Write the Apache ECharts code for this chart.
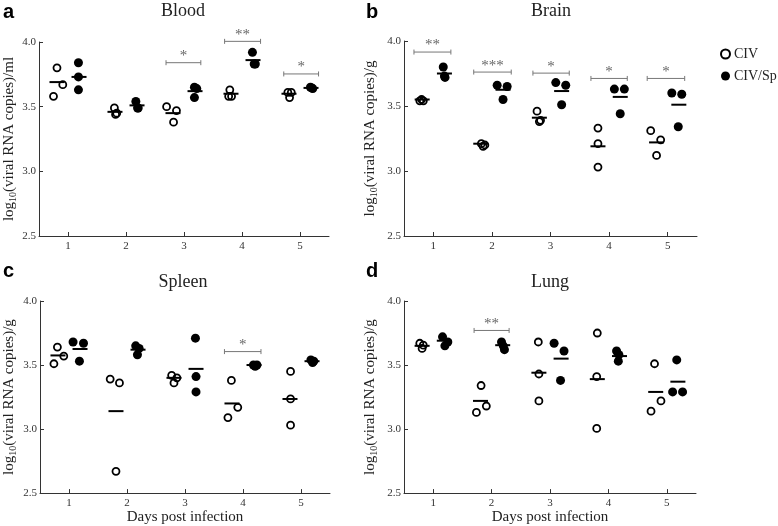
<!DOCTYPE html>
<html>
<head>
<meta charset="utf-8">
<script src="https://cdn.jsdelivr.net/npm/echarts@6/dist/echarts.min.js"></script>
<style>html,body{margin:0;padding:0;background:#fff;}#chart{width:778px;height:526px;}</style>
</head>
<body>
<div id="chart"></div>
<script>
// ---------- data ----------
const days = [1, 2, 3, 4, 5];
const yTickLabels = ['2.5', '3.0', '3.5', '4.0'];
const seriesNames = ['CIV', 'CIV/Sp'];
const panelTitles = ['Blood', 'Brain', 'Spleen', 'Lung'];
const panelLetters = ['a', 'b', 'c', 'd'];
const yUnits = ['ml', 'g', 'g', 'g'];
const xAxisName = 'Days post infection';

// Blood
const bloodCIV = [[3.58, 3.80, 3.67], [3.49, 3.45, 3.44], [3.50, 3.47, 3.38], [3.63, 3.58, 3.58], [3.61, 3.61, 3.57]];
const bloodCIVMean = [3.69, 3.46, 3.45, 3.60, 3.60];
const bloodSp = [[3.84, 3.73, 3.63], [3.54, 3.49, 3.49], [3.65, 3.64, 3.57], [3.92, 3.83, 3.83], [3.65, 3.64, 3.645]];
const bloodSpMean = [3.73, 3.51, 3.62, 3.86, 3.645];
const bloodCIVJitter = [[-0.25, -0.19, -0.09], [-0.20, -0.16, -0.18], [-0.30, -0.13, -0.18], [-0.21, -0.18, -0.23], [-0.21, -0.15, -0.18]];
const bloodSpJitter = [[0.18, 0.18, 0.18], [0.17, 0.20, 0.21], [0.18, 0.22, 0.18], [0.18, 0.21, 0.23], [0.18, 0.22, 0.20]];
const bloodSig = [[2.69, 3.29, 3.84], [3.70, 4.32, 4.005], [4.72, 5.32, 3.753]];
const bloodSigLabels = ['*', '**', '*'];

// Brain
const brainCIV = [[3.54, 3.55, 3.54], [3.21, 3.19, 3.20], [3.46, 3.39, 3.38], [3.33, 3.21, 3.03], [3.31, 3.24, 3.12]];
const brainCIVMean = [3.55, 3.21, 3.41, 3.19, 3.22];
const brainSp = [[3.80, 3.72, 3.73], [3.66, 3.65, 3.55], [3.68, 3.66, 3.51], [3.63, 3.63, 3.44], [3.60, 3.59, 3.34]];
const brainSpMean = [3.75, 3.625, 3.615, 3.57, 3.51];
const brainCIVJitter = [[-0.23, -0.20, -0.17], [-0.18, -0.15, -0.12], [-0.23, -0.17, -0.19], [-0.19, -0.19, -0.19], [-0.29, -0.12, -0.19]];
const brainSpJitter = [[0.17, 0.20, 0.19], [0.09, 0.26, 0.19], [0.09, 0.26, 0.19], [0.09, 0.26, 0.19], [0.07, 0.24, 0.18]];
const brainSig = [[0.67, 1.30, 3.915], [1.69, 2.33, 3.761], [2.70, 3.32, 3.753], [3.69, 4.31, 3.712], [4.65, 5.29, 3.712]];
const brainSigLabels = ['**', '***', '*', '*', '*'];

// Spleen
const spleenCIV = [[3.51, 3.64, 3.57], [3.39, 3.36, 2.67], [3.42, 3.40, 3.36], [3.38, 3.17, 3.09], [3.45, 3.235, 3.03]];
const spleenCIVMean = [3.575, 3.14, 3.40, 3.20, 3.235];
const spleenSp = [[3.68, 3.53, 3.67], [3.65, 3.63, 3.58], [3.71, 3.41, 3.29], [3.50, 3.49, 3.50], [3.54, 3.52, 3.53]];
const spleenSpMean = [3.625, 3.62, 3.47, 3.50, 3.53];
const spleenCIVJitter = [[-0.26, -0.20, -0.09], [-0.29, -0.13, -0.19], [-0.23, -0.14, -0.19], [-0.20, -0.09, -0.26], [-0.18, -0.18, -0.18]];
const spleenSpJitter = [[0.07, 0.18, 0.25], [0.15, 0.21, 0.18], [0.18, 0.19, 0.19], [0.18, 0.21, 0.24], [0.17, 0.20, 0.22]];
const spleenSig = [[3.68, 4.31, 3.605]];
const spleenSigLabels = ['*'];

// Lung
const lungCIV = [[3.67, 3.63, 3.655], [3.34, 3.18, 3.13], [3.68, 3.43, 3.22], [3.75, 3.41, 3.005], [3.51, 3.22, 3.14]];
const lungCIVMean = [3.65, 3.22, 3.44, 3.39, 3.29];
const lungSp = [[3.72, 3.65, 3.68], [3.68, 3.65, 3.62], [3.67, 3.61, 3.38], [3.61, 3.53, 3.58], [3.54, 3.29, 3.29]];
const lungSpMean = [3.69, 3.655, 3.55, 3.57, 3.37];
const lungCIVJitter = [[-0.23, -0.19, -0.17], [-0.18, -0.09, -0.26], [-0.20, -0.19, -0.19], [-0.19, -0.20, -0.20], [-0.21, -0.10, -0.27]];
const lungSpJitter = [[0.16, 0.20, 0.25], [0.17, 0.20, 0.22], [0.07, 0.24, 0.18], [0.14, 0.17, 0.18], [0.17, 0.10, 0.27]];
const lungSig = [[1.70, 2.30, 3.77]];
const lungSigLabels = ['**'];

const groupOffset = 0.19;

// ---------- layout ----------
const SERIF = '"Liberation Serif", "DejaVu Serif", serif';
const SANS = '"Liberation Sans", Arial, sans-serif';
const layouts = [
  { left: 36, top: 42, width: 293, height: 194, nameGap: 21, titleX: 183, titleY: 11, letterX: 3, letterY: 12, xName: false },
  { left: 404, top: 41, width: 293, height: 195, nameGap: 25, titleX: 551, titleY: 11, letterX: 366, letterY: 12, xName: false },
  { left: 37, top: 301, width: 293, height: 195, nameGap: 22, titleX: 183, titleY: 282, letterX: 3, letterY: 271, xName: true },
  { left: 404, top: 301, width: 292, height: 195, nameGap: 25, titleX: 550, titleY: 282, letterX: 366, letterY: 271, xName: true }
];

const panels = [
  { civ: bloodCIV, civMean: bloodCIVMean, sp: bloodSp, spMean: bloodSpMean, civJ: bloodCIVJitter, spJ: bloodSpJitter, sig: bloodSig, sigL: bloodSigLabels },
  { civ: brainCIV, civMean: brainCIVMean, sp: brainSp, spMean: brainSpMean, civJ: brainCIVJitter, spJ: brainSpJitter, sig: brainSig, sigL: brainSigLabels },
  { civ: spleenCIV, civMean: spleenCIVMean, sp: spleenSp, spMean: spleenSpMean, civJ: spleenCIVJitter, spJ: spleenSpJitter, sig: spleenSig, sigL: spleenSigLabels },
  { civ: lungCIV, civMean: lungCIVMean, sp: lungSp, spMean: lungSpMean, civJ: lungCIVJitter, spJ: lungSpJitter, sig: lungSig, sigL: lungSigLabels }
];

function points(vals, jit) {
  const out = [];
  days.forEach((d, i) => vals[i].forEach((v, k) => out.push([d + jit[i][k], v])));
  return out;
}
function means(vals, off) { return days.map((d, i) => [d + off, vals[i]]); }

const grid = [], xAxis = [], yAxis = [], series = [], graphic = [];
const axisColor = '#333';

layouts.forEach((L, i) => {
  const P = panels[i];
  grid.push({ left: L.left, top: L.top, width: L.width, height: L.height, containLabel: false });
  xAxis.push({
    gridIndex: i, type: 'value', min: 0.5, max: 5.5,
    axisLine: { show: true, onZero: false, lineStyle: { color: axisColor, width: 1 } },
    axisTick: { show: true, inside: true, length: 4, customValues: days, lineStyle: { color: axisColor } },
    axisLabel: { customValues: days, color: '#333', fontFamily: SERIF, fontSize: 11, margin: 5 },
    splitLine: { show: false },
    name: L.xName ? xAxisName : '', nameLocation: 'middle', nameGap: 14,
    nameTextStyle: { fontFamily: SERIF, fontSize: 15, color: '#222' }
  });
  yAxis.push({
    gridIndex: i, type: 'value', min: 2.5, max: 4.0, interval: 0.5,
    axisLine: { show: true, onZero: false, lineStyle: { color: axisColor, width: 1 } },
    axisTick: { show: true, inside: true, length: 4, lineStyle: { color: axisColor } },
    axisLabel: { color: '#333', fontFamily: SERIF, fontSize: 11, margin: 3,
      formatter: v => yTickLabels[Math.round((v - 2.5) / 0.5)] },
    splitLine: { show: false },
    name: '{t|log}{s|10}{t|(viral RNA copies)/' + yUnits[i] + '}',
    nameLocation: 'middle', nameRotate: 90, nameGap: L.nameGap,
    nameTextStyle: {
      fontFamily: SERIF, fontSize: 15, color: '#222',
      rich: {
        t: { fontFamily: SERIF, fontSize: 15, color: '#222', lineHeight: 18 },
        s: { fontFamily: SERIF, fontSize: 10, color: '#222', lineHeight: 18, verticalAlign: 'bottom', padding: [7, 0, 0, 0] }
      }
    }
  });
  series.push({
    name: seriesNames[0], type: 'scatter', xAxisIndex: i, yAxisIndex: i,
    symbol: 'circle', symbolSize: 7,
    itemStyle: { color: 'rgba(255,255,255,0)', borderColor: '#000', borderWidth: 1.8, opacity: 1 },
    data: points(P.civ, P.civJ), z: 3, silent: true
  });
  series.push({
    name: seriesNames[1], type: 'scatter', xAxisIndex: i, yAxisIndex: i,
    symbol: 'circle', symbolSize: 9,
    itemStyle: { color: '#000', borderWidth: 0, opacity: 1 },
    data: points(P.sp, P.spJ), z: 3, silent: true
  });
  series.push({
    name: 'mean', type: 'scatter', xAxisIndex: i, yAxisIndex: i,
    symbol: 'rect', symbolSize: [15, 2],
    itemStyle: { color: '#000', opacity: 1 },
    data: means(P.civMean, -groupOffset).concat(means(P.spMean, groupOffset)), z: 4, silent: true
  });
  const labels = P.sigL;
  series.push({
    name: 'sig', type: 'custom', xAxisIndex: i, yAxisIndex: i,
    encode: { x: [0, 1], y: 2 },
    data: P.sig, z: 5, silent: true,
    renderItem: function (params, api) {
      const a = api.coord([api.value(0), api.value(2)]);
      const b = api.coord([api.value(1), api.value(2)]);
      const st = { stroke: '#777', lineWidth: 1 };
      return {
        type: 'group',
        children: [
          { type: 'line', shape: { x1: a[0], y1: a[1], x2: b[0], y2: b[1] }, style: st },
          { type: 'line', shape: { x1: a[0], y1: a[1] - 2.5, x2: a[0], y2: a[1] + 2.5 }, style: st },
          { type: 'line', shape: { x1: b[0], y1: b[1] - 2.5, x2: b[0], y2: b[1] + 2.5 }, style: st },
          { type: 'text', style: { text: labels[params.dataIndex], x: (a[0] + b[0]) / 2, y: a[1] + 1,
              textAlign: 'center', textVerticalAlign: 'bottom', fill: '#666', font: '15px ' + SERIF } }
        ]
      };
    }
  });
  graphic.push({ type: 'text', silent: true, x: L.titleX, y: L.titleY,
    style: { text: panelTitles[i], textAlign: 'center', textVerticalAlign: 'middle', fill: '#222', font: '18px ' + SERIF } });
  graphic.push({ type: 'text', silent: true, x: L.letterX, y: L.letterY,
    style: { text: panelLetters[i], textAlign: 'left', textVerticalAlign: 'middle', fill: '#000', font: 'bold 20px ' + SANS } });
});

const chart = echarts.init(document.getElementById('chart'), null, { renderer: 'canvas' });
chart.setOption({
  animation: false,
  backgroundColor: '#fff',
  grid, xAxis, yAxis, series, graphic,
  legend: {
    data: seriesNames, orient: 'vertical', left: 720, top: 47, itemGap: 8,
    itemWidth: 9, itemHeight: 9, icon: 'circle', padding: 0,
    textStyle: { fontFamily: SERIF, fontSize: 14, color: '#222', padding: [0, 0, 0, -1] },
    selectedMode: false
  }
});
</script>
</body>
</html>
